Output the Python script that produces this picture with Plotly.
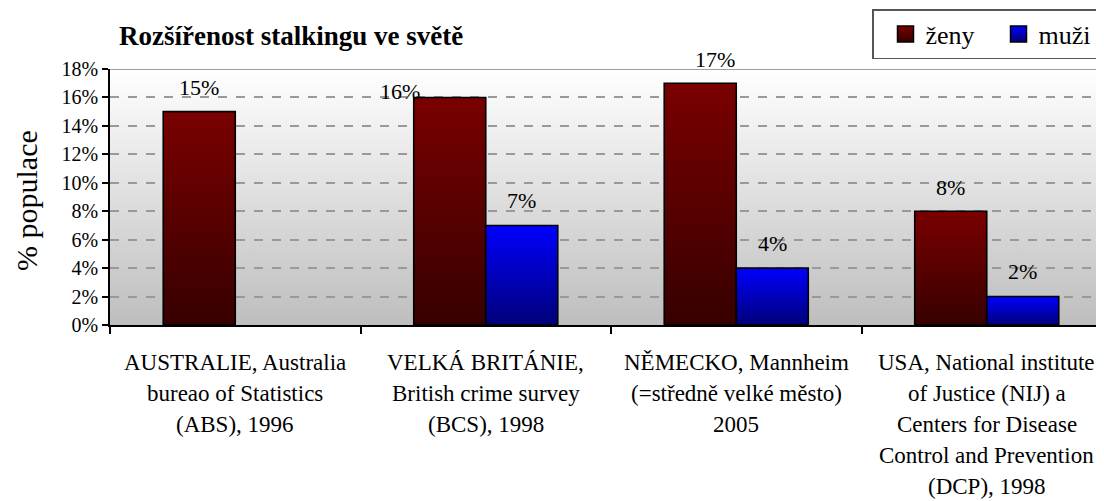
import base64
import plotly.graph_objects as go

# ---- data ----
categories = [
    ["AUSTRALIE, Australia", "bureao of Statistics", "(ABS), 1996"],
    ["VELKÁ BRITÁNIE,", "British crime survey", "(BCS), 1998"],
    ["NĚMECKO, Mannheim", "(=středně velké město)", "2005"],
    ["USA, National institute", "of Justice (NIJ) a", "Centers for Disease",
     "Control and Prevention", "(DCP), 1998"],
]
zeny = [15, 16, 17, 8]
muzi = [None, 7, 4, 2]
series_names = ["ženy", "muži"]
y_ticks = [0, 2, 4, 6, 8, 10, 12, 14, 16, 18]
title_text = "Rozšířenost stalkingu ve světě"
y_title = "% populace"

# ---- style ----
FONT = "Liberation Serif"
RED_TOP, RED_BOT = "#7a0000", "#360000"
BLUE_TOP, BLUE_BOT = "#0000ff", "#000078"
BAR_W = 0.2875
OFF = 8  # page body margin
W, H = 1104 - OFF, 501 - OFF
L, T = 110 - OFF, 69 - OFF
PW, PH = 994, 256
R, B = W - L - PW, H - T - PH


def px_x(x):  # screen px -> paper x
    return (x - OFF - L) / PW


def px_y(y):  # screen px -> paper y
    return (T + PH - (y - OFF)) / PH


fig = go.Figure()


def add_bar(x0, x1, v, top, bot):
    fig.add_trace(go.Scatter(
        x=[x0, x0, x1, x1, x0], y=[0, v, v, 0, 0],
        mode="lines", fill="toself",
        fillgradient=dict(type="vertical", colorscale=[[0, bot], [1, top]]),
        line=dict(color="black", width=1.6),
        showlegend=False, hoverinfo="skip",
    ))


for i, v in enumerate(zeny):
    if v is not None:
        add_bar(i - BAR_W, i, v, RED_TOP, RED_BOT)
for i, v in enumerate(muzi):
    if v is not None:
        add_bar(i, i + BAR_W, v, BLUE_TOP, BLUE_BOT)

# legend entries
for name, top, bot in [(series_names[0], RED_TOP, RED_BOT), (series_names[1], BLUE_TOP, BLUE_BOT)]:
    fig.add_trace(go.Scatter(
        x=[None], y=[None], mode="markers", name=name,
        marker=dict(symbol="square", size=16, color=top,
                    gradient=dict(type="vertical", color=bot),
                    line=dict(color="black", width=1.5)),
    ))

annotations = []
# data labels
zeny_shift = [0, -50, 15, 0]
zeny_yshift = [24, 6, 24, 24]
for i, v in enumerate(zeny):
    if v is not None:
        annotations.append(dict(x=i - BAR_W / 2, y=v, xref="x", yref="y",
                                text=f"{v}%", showarrow=False, yanchor="middle",
                                xshift=zeny_shift[i], yshift=zeny_yshift[i],
                                font=dict(family=FONT, size=22, color="black")))
for i, v in enumerate(muzi):
    if v is not None:
        annotations.append(dict(x=i + BAR_W / 2, y=v, xref="x", yref="y",
                                text=f"{v}%", showarrow=False, yanchor="middle",
                                yshift=25,
                                font=dict(family=FONT, size=22, color="black")))
# category labels, one line each
for i, lines in enumerate(categories):
    for k, line in enumerate(lines):
        annotations.append(dict(x=i, y=0, xref="x", yref="paper", text=line,
                                showarrow=False, xanchor="center", yanchor="middle",
                                yshift=-37 - 31 * k,
                                font=dict(family=FONT, size=23, color="black")))
# title
annotations.append(dict(x=px_x(117), y=px_y(36), xref="paper", yref="paper",
                        text=f"<b>{title_text}</b>", showarrow=False,
                        xanchor="left", yanchor="middle",
                        font=dict(family=FONT, size=27, color="black")))
# y title
annotations.append(dict(x=px_x(26), y=px_y(201), xref="paper", yref="paper",
                        text=y_title, showarrow=False, textangle=-90,
                        xanchor="center", yanchor="middle",
                        font=dict(family=FONT, size=30, color="black")))

svg = ('<svg xmlns="http://www.w3.org/2000/svg" width="10" height="100" viewBox="0 0 10 100" '
       'preserveAspectRatio="none"><defs><linearGradient id="g" x1="0" y1="0" x2="0" y2="1">'
       '<stop offset="0" stop-color="#ffffff"/><stop offset="1" stop-color="#bebebe"/>'
       '</linearGradient></defs><rect width="10" height="100" fill="url(#g)"/></svg>')
bg_src = "data:image/svg+xml;base64," + base64.b64encode(svg.encode()).decode()

fig.update_layout(
    width=W, height=H,
    margin=dict(l=L, r=R, t=T, b=B, pad=0),
    paper_bgcolor="white", plot_bgcolor="#e0e0e0",
    font=dict(family=FONT, color="black"),
    images=[dict(source=bg_src, xref="paper", yref="paper", x=0, y=1,
                 sizex=1, sizey=1, sizing="stretch", layer="below",
                 xanchor="left", yanchor="top")],
    shapes=[dict(type="line", xref="paper", yref="y", x0=0, x1=1, y0=18, y1=18,
                 line=dict(color="#808080", width=1.5))],
    annotations=annotations,
    showlegend=True,
    legend=dict(orientation="h", xref="container", yref="container",
                x=(1101 - OFF) / W, xanchor="right", y=1 - 1 / H, yanchor="top",
                bgcolor="white", bordercolor="#555555", borderwidth=1.5,
                entrywidth=56, entrywidthmode="pixels", indentation=12,
                font=dict(family=FONT, size=26, color="black")),
    xaxis=dict(range=[-0.5, -0.5 + PW / 250.5], tickvals=[-0.5, 0.5, 1.5, 2.5, 3.5],
               showticklabels=False, ticks="outside", ticklen=7, tickcolor="black",
               tickwidth=1.5, showline=True, linecolor="black", linewidth=1.5,
               showgrid=False, zeroline=False, fixedrange=True),
    yaxis=dict(range=[0, 18], tickvals=y_ticks, ticktext=[f"{v}%" for v in y_ticks],
               ticks="outside", ticklen=6, tickcolor="black", tickwidth=1.5,
               showline=True, linecolor="black", linewidth=1.5,
               showgrid=True, gridcolor="#999999", griddash="dash", gridwidth=1.5,
               zeroline=False, tickfont=dict(family=FONT, size=20, color="black"),
               fixedrange=True),
)

fig.write_html("out.html")
